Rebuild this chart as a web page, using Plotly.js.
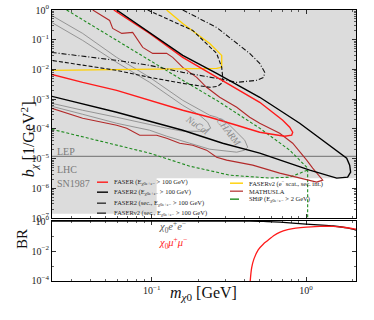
<!DOCTYPE html>
<html><head><meta charset="utf-8">
<script src="https://cdn.plot.ly/plotly-3.0.1.min.js"></script>
<style>html,body{margin:0;padding:0;background:#fff}#chart{width:374px;height:320px}</style>
</head><body><div id="chart"></div>
<script>
// ---------- data ----------
// excluded (grey) region: LEP / LHC / SN1987
const exclM = [0.02, 0.1077, 0.1077, 2.2, 2.2, 0.02];
const exclB = [1.4e-7, 1.4e-7, 2.2e-6, 2.2e-6, 1.5, 1.5];
const lepM = [0.02, 2.2];
const lepB = [1.2e-5, 1.2e-5];

// CHARM and NuCal contours (grey)
const charmM = [0.0225, 0.0357, 0.0593, 0.097, 0.1589, 0.2378, 0.2636, 0.306, 0.3557, 0.4008, 0.419, 0.4008, 0.3557, 0.2378, 0.1763, 0.125, 0.097, 0.0593, 0.0357, 0.0225];
const charmB = [0.653, 0.163, 0.0255, 0.00543, 9.19e-4, 2.88e-4, 2.47e-4, 1.68e-4, 7.75e-5, 4.18e-5, 2.43e-5, 1.93e-5, 1.65e-5, 2.08e-5, 3.31e-5, 5.69e-5, 9.04e-5, 1.55e-4, 3.11e-4, 5.78e-4];
const nucalM = [0.0225, 0.0357, 0.0593, 0.097, 0.1589, 0.2048, 0.2306, 0.2411, 0.2203, 0.1589, 0.125, 0.097, 0.0593, 0.0357, 0.0225];
const nucalB = [0.381, 0.0948, 0.0173, 0.00369, 6.24e-4, 2.88e-4, 1.68e-4, 1.06e-4, 8.37e-5, 8.37e-5, 1.06e-4, 1.44e-4, 2.47e-4, 4.25e-4, 7.28e-4];

// FASER (red)
const faserM = [0.0568, 0.097, 0.1589, 0.3206, 0.5012, 0.7066, 0.7838, 0.82, 0.8075, 0.727, 0.5562, 0.5012, 0.3557, 0.2378, 0.1589, 0.097, 0.0593, 0.0357, 0.0225];
const faserB = [1, 0.163, 0.0255, 0.00293, 7.87e-4, 1.96e-4, 1.14e-4, 7.75e-5, 6.15e-5, 5.69e-5, 7.17e-5, 7.75e-5, 1.33e-4, 2.47e-4, 4.25e-4, 9.19e-4, 0.00199, 0.00369, 0.00685];

// FASER2 (black solid)
const faser2M = [0.0593, 0.097, 0.1589, 0.2636, 0.5012, 0.91, 1.835, 1.919, 1.946, 1.862, 1.581, 1.057, 0.5012, 0.2886, 0.1589, 0.0593, 0.0225];
const faser2B = [1, 0.176, 0.0297, 0.0074, 0.00116, 1.55e-4, 1.04e-5, 6.05e-6, 3.52e-6, 2.39e-6, 2.22e-6, 4.11e-6, 1.53e-5, 3.31e-5, 9.04e-5, 3.63e-4, 1.25e-3];

// FASER2 secondary (black dashed)
const secM = [0.0942, 0.1845, 0.2636, 0.2843, 0.2886, 0.2886, 0.268, 0.2378, 0.1589, 0.097, 0.0593, 0.0225];
const secB = [1, 0.205, 0.0347, 0.0118, 0.00543, 0.00369, 0.00271, 0.00251, 0.00342, 0.00543, 0.00933, 0.0202];

// FASERnu2 secondary (black dash-dot)
const nuSecM = [0.1589, 0.2636, 0.4316, 0.5012, 0.54, 0.532, 0.4792, 0.3557, 0.2636, 0.1589, 0.097, 0.0593, 0.0225];
const nuSecB = [1, 0.259, 0.0347, 0.016, 0.008, 0.00543, 0.00431, 0.00369, 0.00503, 0.008, 0.0137, 0.0202, 0.0375];

// FASERnu2 e- scattering (gold)
const nuScatM = [0.125, 0.1589, 0.2378, 0.2843, 0.2843, 0.2636, 0.0225];
const nuScatB = [1, 0.352, 0.0751, 0.0297, 0.0118, 0.0109, 0.00933];

// MATHUSLA (brown)
const mathM = [0.0415, 0.0534, 0.0559, 0.064, 0.0753, 0.0812, 0.0875, 0.1015, 0.125, 0.1368, 0.1589, 0.1958, 0.2268, 0.2758, 0.3557, 0.4316, 0.5012, 0.6755, 0.82, 1.01, 1.105, 1.284, 1.172, 0.6755, 0.4515, 0.306, 0.2636, 0.2268, 0.1845, 0.1518, 0.125, 0.1077, 0.0836, 0.0689, 0.0593, 0.0357, 0.0225];
const mathB = [1, 0.444, 0.239, 0.163, 0.176, 0.0948, 0.0552, 0.0347, 0.0347, 0.0255, 0.0118, 0.00543, 0.00251, 0.00116, 5.35e-4, 2.47e-4, 1.55e-4, 7.17e-5, 3.31e-5, 8.91e-6, 4.8e-6, 1.9e-6, 1.63e-6, 3.26e-6, 6.05e-6, 8.91e-6, 1.12e-5, 1.93e-5, 2.84e-5, 3.31e-5, 4.88e-5, 6.15e-5, 6.15e-5, 1.06e-4, 1.33e-4, 2.29e-4, 4.95e-4];

// SHiP (green dashed): upper edge + kinematic drop, then lower edge
const shipM = [0.0281, 0.0593, 0.097, 0.1589, 0.2636, 0.5012, 0.7838, 1.025, 1.025, null, 0.0225, 0.097, 0.1763, 0.3206, 0.5817, 0.7838, 1.025];
const shipB = [1, 0.0948, 0.0202, 0.00431, 9.19e-4, 1.06e-4, 1.93e-5, 4.8e-6, 1e-8, null, 9.77e-5, 1.53e-5, 5.6e-6, 2.79e-6, 2.22e-6, 2.39e-6, 4.11e-6];

// branching ratios (lower panel)
const brEeM = [0.0225, 0.43, 0.5, 0.56, 0.68, 0.82, 1.0, 1.27, 1.5, 1.85, 2.11];
const brEe  = [1, 1, 0.97, 0.93, 0.85, 0.74, 0.63, 0.54, 0.47, 0.35, 0.25];
const brMuM = [0.43, 0.435, 0.445, 0.46, 0.49, 0.53, 0.56, 0.62, 0.68, 0.76, 0.82, 0.92, 1.01, 1.23, 1.5, 1.85, 2.11];
const brMu  = [1e-5, 1e-4, 8e-4, 3e-3, 0.012, 0.03, 0.047, 0.11, 0.186, 0.27, 0.32, 0.37, 0.40, 0.45, 0.44, 0.36, 0.29];

const yTopTicks = [1, 1e-1, 1e-2, 1e-3, 1e-4, 1e-5, 1e-6, 1e-7];
const yTopText = ['10<sup>0</sup>','10<sup>−1</sup>','10<sup>−2</sup>','10<sup>−3</sup>','10<sup>−4</sup>','10<sup>−5</sup>','10<sup>−6</sup>','10<sup>−7</sup>'];
const yBotTicks = [1, 1e-2, 1e-4];
const yBotText = ['10<sup>0</sup>','10<sup>−2</sup>','10<sup>−4</sup>'];
const xTicks = [0.1, 1];
const xText = ['10<sup>−1</sup>','10<sup>0</sup>'];

// ---------- minor tick positions ----------
function minors(lo, hi) { const o = []; for (let e = lo; e <= hi; e++) for (let k = 2; k <= 9; k++) o.push(k * Math.pow(10, e)); return o; }
const xMinor = minors(-2, 0);
const yTopMinor = minors(-7, -1);
const yBotMinor = [1e-1, 1e-3];

const SERIF = 'Liberation Serif, DejaVu Serif, serif';
const RED = '#ff1a1a', BROWN = '#b22a2a', GOLD = '#ffd000', GREEN = '#1e8a1e', GREY = '#8c8c8c';

function tr(x, y, color, width, dash, extra) {
  return Object.assign({x: x, y: y, xaxis: 'x2', yaxis: 'y', mode: 'lines', type: 'scatter', hoverinfo: 'skip',
    line: {color: color, width: width, dash: dash || 'solid'}, showlegend: false}, extra || {});
}

const traces = [
  tr(exclM, exclB, 'rgba(0,0,0,0)', 0, 'solid', {fill: 'toself', fillcolor: '#dcdcdc'}),
  tr(lepM, lepB, '#6e6e6e', 1),
  tr(charmM, charmB, GREY, 0.9),
  tr(nucalM, nucalB, GREY, 0.9),
  tr(shipM, shipB, GREEN, 1.1, '3px,2px'),
  tr(mathM, mathB, BROWN, 1.1),
  tr(nuScatM, nuScatB, GOLD, 1.3),
  tr(nuSecM, nuSecB, '#111', 1.1, '5px,2px,1px,2px'),
  tr(secM, secB, '#111', 1.1, '4px,2px'),
  tr(faserM, faserB, RED, 1.4),
  tr(faser2M, faser2B, '#000', 1.4),
  {x: brEeM, y: brEe, xaxis: 'x', yaxis: 'y2', mode: 'lines', type: 'scatter', hoverinfo: 'skip', showlegend: false,
   line: {color: '#000', width: 1.3, shape: 'spline', smoothing: 0.6}},
  {x: brMuM, y: brMu, xaxis: 'x', yaxis: 'y2', mode: 'lines', type: 'scatter', hoverinfo: 'skip', showlegend: false,
   line: {color: RED, width: 1.3, shape: 'spline', smoothing: 0.6}}
];

const axBase = {type: 'log', showgrid: false, zeroline: false, showline: true, linecolor: '#000', linewidth: 1,
  mirror: 'allticks', ticks: 'inside', ticklen: 4, tickwidth: 0.8, tickcolor: '#000',
  tickfont: {family: SERIF, size: 10, color: '#222'}};

// plot area in px: x 52..356, y 9.5..281
const PX = px => (px - 52) / 304;
const PY = py => (281 - py) / 271.5;

const legLeft = [
  {t: 'FASER (E<sub>χ0e+e−</sub> > 100 GeV)', c: RED, d: 'solid', w: 1.4},
  {t: 'FASER2 (E<sub>χ0e+e−</sub> > 100 GeV)', c: '#000', d: 'solid', w: 1.4},
  {t: 'FASER2 (sec., E<sub>χ0e+e−</sub> > 100 GeV)', c: '#000', d: 'dash', w: 1.1},
  {t: 'FASERν2 (sec., E<sub>χ0e+e−</sub> > 100 GeV)', c: '#000', d: 'dashdot', w: 1.1}
];
const legLeftY = [182, 192, 203, 213];
const legRight = [
  {t: 'FASERν2 (e<sup>−</sup> scat., sec. int.)', c: GOLD, d: 'solid', w: 1.4},
  {t: 'MATHUSLA', c: BROWN, d: 'solid', w: 1.2},
  {t: 'SHiP (E<sub>χ0e+e−</sub> > 2 GeV)', c: GREEN, d: 'dash', w: 1.4}
];
const legRightY = [183, 191, 199];

const annotations = [], shapes = [];
function addLeg(items, ys, x0, x1, xt) {
  items.forEach((it, i) => {
    shapes.push({type: 'line', xref: 'paper', yref: 'paper', x0: PX(x0), x1: PX(x1), y0: PY(ys[i]), y1: PY(ys[i]),
      line: {color: it.c, width: it.w, dash: it.d}});
    annotations.push({xref: 'paper', yref: 'paper', x: PX(xt), y: PY(ys[i]), xanchor: 'left', yanchor: 'middle',
      showarrow: false, text: it.t, font: {family: SERIF, size: 6.5, color: '#222'}});
  });
}
addLeg(legLeft, legLeftY, 97, 108, 112);
addLeg(legRight, legRightY, 230, 243, 247);

const lab = (text, x, y, extra) => Object.assign({text: text, x: x, y: y, showarrow: false}, extra);
annotations.push(
  lab('LEP', PX(55), -4.75, {xref: 'paper', yref: 'y', xanchor: 'left', font: {family: SERIF, size: 10, color: '#7a7a7a'}}),
  lab('LHC', PX(55), -5.35, {xref: 'paper', yref: 'y', xanchor: 'left', font: {family: SERIF, size: 10, color: '#7a7a7a'}}),
  lab('SN1987', PX(55), -5.82, {xref: 'paper', yref: 'y', xanchor: 'left', font: {family: SERIF, size: 10, color: '#7a7a7a'}}),
  lab('<i>NuCal</i>', -0.708, -3.876, {xref: 'x2', yref: 'y', textangle: 35, font: {family: SERIF, size: 9.5, color: '#8a8a8a'}}),
  lab('<i>CHARM</i>', -0.50, -4.10, {xref: 'x2', yref: 'y', textangle: 52, font: {family: SERIF, size: 9.5, color: '#8a8a8a'}}),
  lab('<i>χ</i><sub>0</sub><i>e</i><sup>+</sup><i>e</i><sup>−</sup>', -0.968, -0.40, {xref: 'x', yref: 'y2', xanchor: 'left', font: {family: SERIF, size: 10.5, color: '#555'}}),
  lab('<i>χ</i><sub>0</sub><i>μ</i><sup>+</sup><i>μ</i><sup>−</sup>', -0.968, -1.47, {xref: 'x', yref: 'y2', xanchor: 'left', font: {family: SERIF, size: 10.5, color: RED}}),
  lab('<i>b</i><sub><i>χ</i></sub> [1/GeV<sup>2</sup>]', PX(16), PY(99), {xref: 'paper', yref: 'paper', textangle: -90, font: {family: SERIF, size: 16, color: '#111'}}),
  lab('BR', PX(12), PY(251), {xref: 'paper', yref: 'paper', textangle: -90, font: {family: SERIF, size: 15, color: '#111'}}),
  lab('<i>m</i><sub><i>χ</i>0</sub> [GeV]', PX(203), PY(305), {xref: 'paper', yref: 'paper', font: {family: SERIF, size: 16, color: '#111'}})
);

const layout = {
  width: 374, height: 320,
  margin: {l: 52, r: 18, t: 9.5, b: 39},
  paper_bgcolor: '#fff', plot_bgcolor: '#fff',
  showlegend: false,
  xaxis: Object.assign({}, axBase, {anchor: 'y2', range: [-1.646, 0.324], tickvals: xTicks, ticktext: xText,
    minor: {tickvals: xMinor, ticks: 'inside', ticklen: 2, tickwidth: 0.6, tickcolor: '#000'}}),
  xaxis2: Object.assign({}, axBase, {anchor: 'y', matches: 'x', range: [-1.646, 0.324], tickvals: xTicks, showticklabels: false,
    minor: {tickvals: xMinor, ticks: 'inside', ticklen: 2, tickwidth: 0.6, tickcolor: '#000'}}),
  yaxis: Object.assign({}, axBase, {anchor: 'x2', domain: [0.232, 1], range: [-7, 0], tickvals: yTopTicks, ticktext: yTopText,
    minor: {tickvals: yTopMinor, ticks: 'inside', ticklen: 2, tickwidth: 0.6, tickcolor: '#000'}}),
  yaxis2: Object.assign({}, axBase, {anchor: 'x', domain: [0, 0.221], range: [-4, 0], tickvals: yBotTicks, ticktext: yBotText,
    minor: {tickvals: yBotMinor, ticks: 'inside', ticklen: 2, tickwidth: 0.6, tickcolor: '#000'}}),
  annotations: annotations,
  shapes: shapes
};

Plotly.newPlot('chart', traces, layout, {staticPlot: true, displayModeBar: false});
</script>
</body></html>
